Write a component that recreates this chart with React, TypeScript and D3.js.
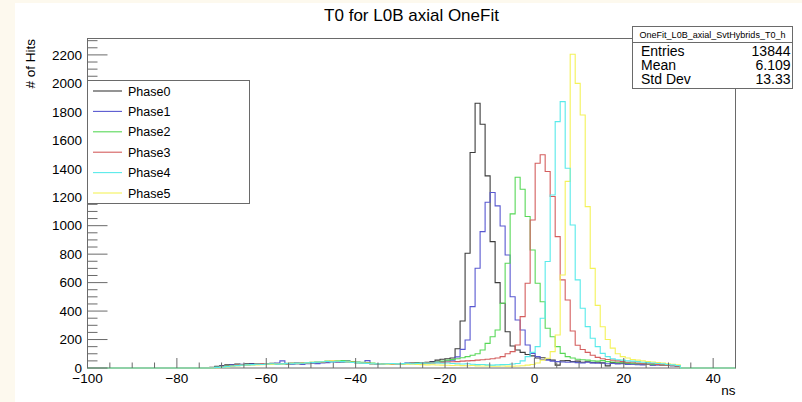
import React from 'react';
import * as d3 from 'd3';

const phaseNames = ['Phase0', 'Phase1', 'Phase2', 'Phase3', 'Phase4', 'Phase5'];
const phaseColors = ['#3c3c3c', '#5858d0', '#58d858', '#d45e5e', '#58eaea', '#f4f25a'];
const drawOrder = [0, 1, 2, 3, 5, 4];

const binLow = -72.63;
const binWidth = 1.12;

const phase0 = [
  5, 12, 18, 22, 25, 28, 24, 30, 32, 28, 26, 30, 33, 29, 31, 27, 30, 34, 36, 32,
  35, 38, 40, 44, 46, 48, 42, 45, 40, 38, 36, 33, 30, 28, 30, 32, 29, 31, 30, 33,
  34, 36, 38, 40, 45, 55,
  61, 65, 70, 135, 330, 806, 1514, 1860, 1713, 1350,
  888, 600, 455, 255, 155, 127, 110, 95, 85, 70,
  72, 62, 55, 20, 50, 52, 45, 48, 40, 44,
  38, 40, 36, 15, 38, 34, 32, 30, 28, 30,
  26, 25, 22, 24, 20, 18, 16, 12,
];
const phase1 = [
  3, 8, 14, 18, 22, 20, 26, 24, 28, 30, 27, 32, 30, 35, 50, 30, 26, 28, 25, 30,
  33, 31, 35, 38, 42, 40, 45, 50, 44, 40, 38, 52, 30, 28, 29, 31, 27, 30, 32, 34,
  33, 35, 38, 36, 40, 42,
  45, 50, 55, 78, 131, 197, 431, 701, 958, 1165,
  1233, 1139, 998, 794, 501, 337, 267, 162, 103, 80,
  60, 55, 48, 45, 42, 40, 42, 38, 35, 40,
  36, 33, 35, 30, 32, 28, 30, 25, 27, 24,
  22, 26, 20, 22, 18, 20, 16, 14,
];
const phase2 = [
  2, 6, 10, 15, 18, 20, 22, 25, 24, 28, 26, 29, 31, 28, 30, 33, 35, 32, 36, 38,
  40, 42, 45, 48, 46, 50, 52, 48, 45, 42, 40, 36, 34, 32, 30, 31, 29, 30, 28, 32,
  33, 35, 34, 36, 38, 42,
  48, 55, 60, 65, 72, 80, 90, 100, 126, 173,
  220, 267, 455, 736, 1083, 1340, 1256, 1064, 829, 595,
  466, 279, 220, 150, 103, 80, 70, 62, 58, 55,
  50, 48, 52, 45, 42, 40, 38, 36, 34, 30,
  32, 28, 26, 25, 22, 20, 18, 16,
];
const phase3 = [
  1, 4, 8, 12, 16, 20, 22, 20, 25, 28, 30, 27, 29, 32, 30, 28, 33, 35, 37, 34,
  38, 40, 43, 45, 48, 44, 46, 42, 40, 37, 35, 33, 30, 31, 28, 30, 27, 29, 31, 30,
  33, 32, 35, 34, 36, 38,
  40, 42, 44, 45, 48, 50, 52, 55, 58, 62,
  65, 70, 80, 100, 115, 162, 361, 595, 1040, 1439,
  1498, 1381, 1205, 923, 619, 478, 260, 160, 130, 110,
  90, 75, 65, 60, 55, 50, 45, 40, 42, 35,
  30, 28, 32, 25, 22, 20, 18, 15,
];
const phase4 = [
  0, 3, 6, 10, 14, 17, 20, 22, 24, 26, 25, 28, 30, 27, 29, 31, 30, 34, 33, 36,
  38, 41, 44, 46, 43, 47, 45, 42, 39, 36, 34, 32, 30, 29, 28, 30, 32, 29, 31, 33,
  30, 32, 34, 33, 35, 36,
  33, 35, 32, 30, 28, 30, 26, 24, 25, 22,
  20, 22, 24, 25, 28, 32, 50, 80, 110, 150,
  350, 748, 1216, 1731, 1872, 1404, 1005, 619, 420, 291,
  209, 150, 103, 80, 65, 58, 55, 50, 48, 45,
  40, 38, 35, 32, 30, 25, 22, 18,
];
const phase5 = [
  0, 2, 5, 8, 12, 15, 18, 20, 22, 21, 24, 26, 25, 28, 27, 30, 32, 31, 35, 37,
  40, 42, 45, 47, 50, 48, 46, 44, 40, 38, 35, 33, 31, 30, 28, 27, 29, 30, 28, 27,
  26, 25, 24, 22, 23, 21,
  20, 19, 18, 20, 17, 16, 18, 15, 14, 15,
  13, 12, 14, 13, 12, 14, 16, 20, 25, 35,
  55, 68, 115, 232, 654, 1311, 2205, 2000, 1778, 1134,
  700, 440, 290, 200, 140, 100, 80, 70, 60, 55,
  50, 45, 42, 38, 35, 30, 26, 22,
];
const phaseValues = [phase0, phase1, phase2, phase3, phase4, phase5];

const xDomain = [-100, 45];
const xTickLabels = [-100, -80, -60, -40, -20, 0, 20, 40];
const yTickLabels = [0, 200, 400, 600, 800, 1000, 1200, 1400, 1600, 1800, 2000, 2200];

const titleText = 'T0 for L0B axial OneFit';
const xTitle = 'ns';
const yTitle = '# of Hits';
const statsTitle = 'OneFit_L0B_axial_SvtHybrids_T0_h';
const statsNames = ['Entries', 'Mean', 'Std Dev'];
const statsValues = ['13844', '6.109', '13.33'];

const FONT = '"Liberation Sans", Arial, Helvetica, sans-serif';

export default function App() {
  const W = 802;
  const H = 402;
  const frame = { left: 87.5, right: 735.5, top: 38.5, bottom: 368 };
  const axisColor = '#6a6a6a';

  const x = d3.scaleLinear().domain(xDomain).range([frame.left, frame.right]);
  const yMax = (d3.max(phaseValues.flat()) as number) * 1.05;
  const y = d3.scaleLinear().domain([0, yMax]).range([frame.bottom, frame.top]);

  const line = d3
    .line<[number, number]>()
    .x((d) => x(d[0]))
    .y((d) => y(d[1]));

  const buildPath = (vals: number[]) => {
    const pts: [number, number][] = [[xDomain[0], 0], [binLow, 0]];
    vals.forEach((v, i) => {
      const a = binLow + i * binWidth;
      const b = a + binWidth;
      pts.push([a, v]);
      pts.push([b, v]);
    });
    const end = binLow + vals.length * binWidth;
    pts.push([end, 0]);
    pts.push([xDomain[1], 0]);
    return line(pts) || '';
  };

  const xMinor = d3.range(-100, 45.001, 5);
  const yMinor = d3.range(0, yMax, 50);

  const fmt = (v: number) => (v < 0 ? '\u2212' + Math.abs(v) : String(v));

  const legend = { left: 87.5, right: 249.5, top: 80.5, bottom: 203.5 };
  const legendRows = d3
    .scalePoint<number>()
    .domain(phaseNames.map((_, i) => i))
    .range([91, 193]);

  const stats = { left: 632.5, right: 792.5, top: 26.5, bottom: 88.5, sep: 42.5 };

  return (
    <svg
      width={W}
      height={H}
      style={{ position: 'absolute', left: 0, top: 0, background: '#fdf9ee' }}
      fontFamily={FONT}
    >
      <rect x={15} y={3} width={W - 15} height={H - 3} fill="#ffffff" />
      <text x={(frame.left + frame.right) / 2} y={21} fontSize={17} textAnchor="middle" fill="#000">
        {titleText}
      </text>

      {/* frame */}
      <rect
        x={frame.left}
        y={frame.top}
        width={frame.right - frame.left}
        height={frame.bottom - frame.top}
        fill="none"
        stroke={axisColor}
        strokeWidth={1}
      />

      {/* histograms */}
      <g fill="none" strokeWidth={1.1}>
        {drawOrder.map((i) => (
          <path key={phaseNames[i]} d={buildPath(phaseValues[i])} stroke={phaseColors[i]} />
        ))}
      </g>

      {/* x axis ticks */}
      <g stroke={axisColor} strokeWidth={1}>
        {xMinor.map((t) => {
          const major = xTickLabels.includes(t);
          return (
            <line
              key={'xm' + t}
              x1={x(t)}
              x2={x(t)}
              y1={frame.bottom}
              y2={frame.bottom - (major ? 10 : 5.5)}
            />
          );
        })}
        {yMinor.map((v) => {
          const major = yTickLabels.includes(v);
          return (
            <line
              key={'ym' + v}
              x1={frame.left}
              x2={frame.left + (major ? 20 : 10)}
              y1={y(v)}
              y2={y(v)}
            />
          );
        })}
      </g>

      <g fontSize={13.5} fill="#000">
        {xTickLabels.map((t) => (
          <text key={'xl' + t} x={x(t)} y={382.5} textAnchor="middle">
            {fmt(t)}
          </text>
        ))}
        {yTickLabels.map((v) => (
          <text key={'yl' + v} x={82} y={y(v) + 4.8} textAnchor="end">
            {fmt(v)}
          </text>
        ))}
      </g>

      <text x={frame.right} y={395} fontSize={13.5} textAnchor="end" fill="#000">
        {xTitle}
      </text>
      <text
        transform={`translate(35,${frame.top + 0.5}) rotate(-90)`}
        fontSize={13.5}
        textAnchor="end"
        fill="#000"
      >
        {yTitle}
      </text>

      {/* legend */}
      <rect
        x={legend.left}
        y={legend.top}
        width={legend.right - legend.left}
        height={legend.bottom - legend.top}
        fill="#ffffff"
        stroke={axisColor}
        strokeWidth={1}
      />
      {phaseNames.map((name, i) => (
        <g key={'lg' + name}>
          <line
            x1={93}
            x2={122}
            y1={legendRows(i)}
            y2={legendRows(i)}
            stroke={phaseColors[i]}
            strokeWidth={1.1}
          />
          <text x={128} y={(legendRows(i) as number) + 4.5} fontSize={12.5} fill="#000">
            {name}
          </text>
        </g>
      ))}

      {/* stats box */}
      <rect
        x={stats.left}
        y={stats.top}
        width={stats.right - stats.left}
        height={stats.bottom - stats.top}
        fill="#ffffff"
        stroke={axisColor}
        strokeWidth={1}
      />
      <line x1={stats.left} x2={stats.right} y1={stats.sep} y2={stats.sep} stroke={axisColor} />
      <text
        x={(stats.left + stats.right) / 2}
        y={38}
        fontSize={9.6}
        textAnchor="middle"
        fill="#000"
        textLength={146}
        lengthAdjust="spacingAndGlyphs"
      >
        {statsTitle}
      </text>
      {statsNames.map((n, i) => (
        <g key={'st' + n} fontSize={14} fill="#000">
          <text x={641} y={56 + i * 14}>
            {n}
          </text>
          <text x={790.5} y={56 + i * 14} textAnchor="end">
            {statsValues[i]}
          </text>
        </g>
      ))}
    </svg>
  );
}
